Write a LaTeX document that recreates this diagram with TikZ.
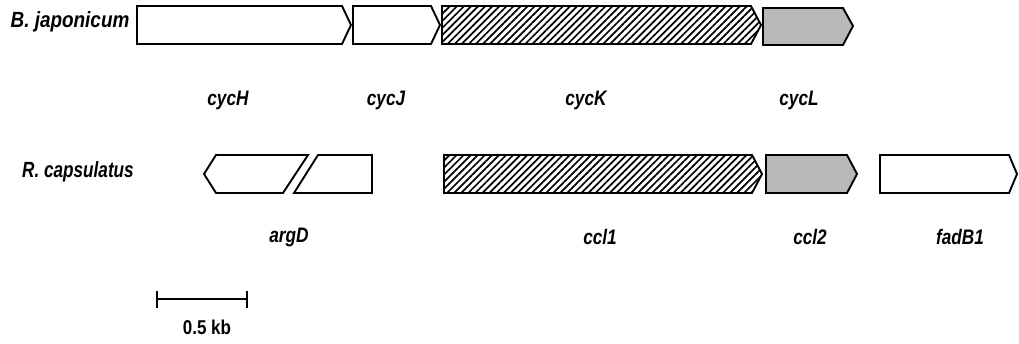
\documentclass[tikz,border=0pt]{standalone}
\usepackage{fontspec}
\setmainfont{Liberation Sans}
\usetikzlibrary{patterns.meta}
\begin{document}
\begin{tikzpicture}[x=1pt,y=-1pt,
  gene/.style={draw=black,line width=1.9pt,line join=miter,fill=white},
  hatched/.style={gene,pattern={Lines[angle=45,distance=5pt,line width=1.7pt]}},
  stippled/.style={gene,fill=black!28},
  lbl/.style={font=\bfseries\itshape\fontsize{21}{24}\selectfont,inner sep=0pt},
  org/.style={font=\bfseries\itshape\fontsize{22}{24}\selectfont,inner sep=0pt}]
\useasboundingbox (0,0) rectangle (1019,343);

% B. japonicum cluster
\node[org] (bj) at (70,22) {\scalebox{0.86}[1]{B. japonicum}};
\draw[gene]     (137,6) -- (342,6) -- (351,25) -- (342,44) -- (137,44) -- cycle;
\draw[gene]     (353,6) -- (431,6) -- (440,25) -- (431,44) -- (353,44) -- cycle;
\draw[hatched]  (442,6) -- (751,6) -- (761,25) -- (751,44) -- (442,44) -- cycle;
\draw[stippled] (763,8) -- (843,8) -- (853,26) -- (843,45) -- (763,45) -- cycle;
\node[lbl] (cycH) at (228,100) {\scalebox{0.82}[1]{cycH}};
\node[lbl] (cycJ) at (386,100) {\scalebox{0.82}[1]{cycJ}};
\node[lbl] (cycK) at (586,100) {\scalebox{0.82}[1]{cycK}};
\node[lbl] (cycL) at (799,100) {\scalebox{0.82}[1]{cycL}};

% R. capsulatus cluster
\node[org] (rc) at (78,172) {\scalebox{0.78}[1]{R. capsulatus}};
\draw[gene]     (308,155) -- (216,155) -- (204,174) -- (216,193) -- (283,193) -- cycle;
\draw[gene]     (318,155) -- (372,155) -- (372,193) -- (294,193) -- cycle;
\draw[hatched]  (444,155) -- (752,155) -- (762,174) -- (752,193) -- (444,193) -- cycle;
\draw[stippled] (766,155) -- (847,155) -- (857,174) -- (847,193) -- (766,193) -- cycle;
\draw[gene]     (880,155) -- (1009,155) -- (1017,174) -- (1009,193) -- (880,193) -- cycle;
\node[lbl] (argD)  at (289,237) {\scalebox{0.82}[1]{argD}};
\node[lbl] (ccl1)  at (600,237) {\scalebox{0.82}[1]{ccl1}};
\node[lbl] (ccl2)  at (810,237) {\scalebox{0.82}[1]{ccl2}};
\node[lbl] (fadB1) at (960,237) {\scalebox{0.82}[1]{fadB1}};

% scale bar
\coordinate (sbl) at (157,299);
\coordinate (sbr) at (247,299);
\draw[line width=1.5pt] (sbl) -- (sbr);
\draw[line width=1.5pt] (157,291) -- (157,308);
\draw[line width=1.5pt] (247,291) -- (247,308);
\node[font=\bfseries\fontsize{20}{22}\selectfont,inner sep=0pt] (kb) at (207,327) {\scalebox{0.85}[1]{0.5 kb}};
\end{tikzpicture}
\end{document}
